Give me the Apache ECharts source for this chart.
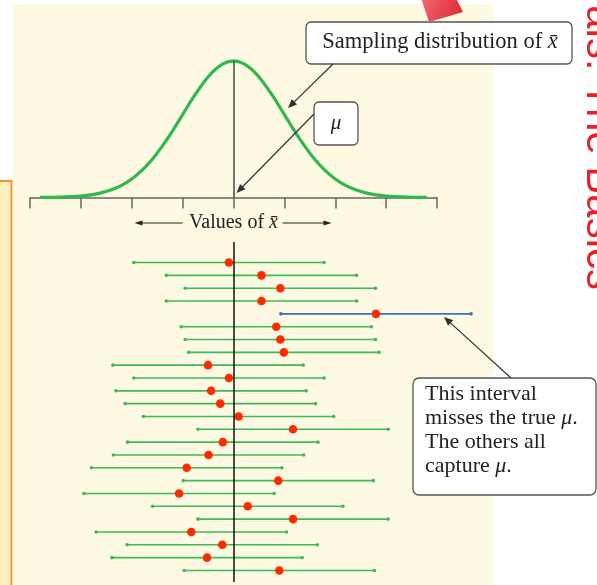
<!DOCTYPE html>
<html><head><meta charset="utf-8">
<script src="https://cdn.jsdelivr.net/npm/echarts@6/dist/echarts.min.js"></script>
<style>html,body{margin:0;padding:0;background:#fff}#c{width:597px;height:585px}</style>
</head><body><div id="c"></div>
<script>
// ---- data ----
const curveX = [-3.8,-3.6,-3.4,-3.2,-3.0,-2.8,-2.6,-2.4,-2.2,-2.0,-1.8,-1.6,-1.4,-1.2,-1.0,-0.8,-0.6,-0.4,-0.2,0,
                0.2,0.4,0.6,0.8,1.0,1.2,1.4,1.6,1.8,2.0,2.2,2.4,2.6,2.8,3.0,3.2,3.4,3.6,3.8];
const curveY = [0.0003,0.0006,0.0012,0.0024,0.0044,0.0079,0.0136,0.0224,0.0355,0.054,0.079,0.111,0.150,0.194,0.242,0.290,0.333,0.368,0.391,0.399,
                0.391,0.368,0.333,0.290,0.242,0.194,0.150,0.111,0.079,0.054,0.0355,0.0224,0.0136,0.0079,0.0044,0.0024,0.0012,0.0006,0.0003];
const tickValues = [-4,-3,-2,-1,0,1,2,3,4];
const sampleMeans = [-0.09,0.55,0.92,0.55,2.80,0.84,0.92,0.99,-0.50,-0.09,-0.44,-0.26,0.10,
                     1.17,-0.21,-0.49,-0.92,0.88,-1.07,0.28,1.17,-0.83,-0.22,-0.52,0.90];
const marginOfError = 1.87;
const mu = 0;
const axisLabelText = 'Values of {i|x̄}';
const samplingLabel = 'Sampling distribution of {i|x̄}';
const muLabel = 'μ';
const missLabel = 'This interval\nmisses the true {i|μ}.\nThe others all\ncapture {i|μ}.';
const titleText = 'Confidence Intervals: The Basics';

const GREEN = '#3dba55', BLUE = '#3b6fc6', RED = '#ff2a00', SERIF = '"Liberation Serif", "DejaVu Serif", serif';
const peak = Math.max(...curveY);

const chart = echarts.init(document.getElementById('c'), null, {renderer: 'canvas'});
chart.setOption({
  backgroundColor: '#ffffff',
  animation: false,
  grid: [
    {left: 30, right: 160, top: 60.5, bottom: 387.5},
    {left: 30, right: 160, top: 242, bottom: 3}
  ],
  xAxis: [
    {gridIndex: 0, type: 'value', min: tickValues[0], max: tickValues[tickValues.length - 1], interval: 1,
     axisLine: {show: true, onZero: false, lineStyle: {color: '#666', width: 1.5}},
     axisTick: {show: true, inside: false, length: 11, lineStyle: {color: '#666', width: 1.5}},
     axisLabel: {show: false}, splitLine: {show: false}},
    {gridIndex: 1, type: 'value', min: tickValues[0], max: tickValues[tickValues.length - 1], show: false}
  ],
  yAxis: [
    {gridIndex: 0, type: 'value', min: 0, max: 0.4, show: false},
    {gridIndex: 1, type: 'value', min: -1.6, max: sampleMeans.length - 1 + 0.9, inverse: true, show: false}
  ],
  series: [
    {type: 'line', xAxisIndex: 0, yAxisIndex: 0, data: curveX.map((x, i) => [x, curveY[i]]),
     smooth: 0.4, showSymbol: false, lineStyle: {color: '#2fb84e', width: 3.2}, z: 3,
     markLine: {silent: true, symbol: ['none', 'none'], label: {show: false},
       lineStyle: {color: '#444', width: 1.5, type: 'solid'},
       data: [[{coord: [mu, 0]}, {coord: [mu, peak]}]]}},
    {type: 'custom', xAxisIndex: 1, yAxisIndex: 1, data: sampleMeans.map((m, i) => [m, i]),
     renderItem(params, api) {
       const m = api.value(0), row = api.value(1);
       const lo = api.coord([m - marginOfError, row]);
       const hi = api.coord([m + marginOfError, row]);
       const c = api.coord([m, row]);
       const hit = (m - marginOfError <= mu) && (mu <= m + marginOfError);
       const col = hit ? GREEN : BLUE;
       return {type: 'group', children: [
         {type: 'line', shape: {x1: lo[0], y1: lo[1], x2: hi[0], y2: hi[1]}, style: {stroke: col, lineWidth: 1.6}},
         {type: 'circle', shape: {cx: lo[0], cy: lo[1], r: 1.8}, style: {fill: col}},
         {type: 'circle', shape: {cx: hi[0], cy: hi[1], r: 1.8}, style: {fill: col}},
         {type: 'circle', shape: {cx: c[0], cy: c[1], r: 4.3}, style: {fill: RED}, z2: 10}
       ]};
     },
     markLine: {silent: true, symbol: ['none', 'none'], label: {show: false},
       lineStyle: {color: '#111', width: 1.5, type: 'solid'}, data: [{xAxis: mu}]}}
  ]
});

function arrow(x1, y1, x2, y2, len, half, color, width) {
  const dx = x2 - x1, dy = y2 - y1, L = Math.hypot(dx, dy), ux = dx / L, uy = dy / L;
  const bx = x2 - ux * len, by = y2 - uy * len;
  return [
    {type: 'line', z: 100, shape: {x1, y1, x2: bx + ux, y2: by + uy}, style: {stroke: color, lineWidth: width}},
    {type: 'polygon', z: 100, shape: {points: [[x2, y2], [bx - uy * half, by + ux * half], [bx + uy * half, by - ux * half]]}, style: {fill: color}}
  ];
}

const muTop = chart.convertToPixel({xAxisIndex: 0, yAxisIndex: 0}, [mu, 0]);
const cx = muTop[0];
const labY = 223;
const richI = {i: {fontFamily: SERIF, fontStyle: 'italic', fontSize: 20, fill: '#222'}};

const els = [
  // slide backgrounds
  {type: 'rect', z: -100, shape: {x: 13, y: 4, width: 480, height: 581}, style: {fill: '#fef9e2'}},
  {type: 'rect', z: -90, shape: {x: -2, y: 181, width: 13.5, height: 410}, style: {fill: '#fcefc0', stroke: '#f7941d', lineWidth: 1.8}},
  {type: 'text', z: -80, x: 578, y: 290, rotation: -Math.PI / 2,
   style: {text: titleText, fontFamily: '"Liberation Sans", Arial, sans-serif', fontSize: 42, fill: '#e8202a', align: 'right', verticalAlign: 'bottom'}},
  {type: 'polygon', z: 120, shape: {points: [[421, -2], [429, 22], [463, 12], [456, -2]]},
   style: {fill: new echarts.graphic.LinearGradient(0, 0, 1, 1, [{offset: 0, color: '#f36a72'}, {offset: 1, color: '#dd2230'}])}},
  // axis caption
  {type: 'text', z: 100, x: cx, y: labY,
   style: {text: axisLabelText, fontFamily: SERIF, fontSize: 20, fill: '#222', align: 'center', verticalAlign: 'middle', rich: richI}},
  ...arrow(cx - 51, labY, cx - 99, labY, 8, 2.6, '#222', 1.2),
  ...arrow(cx + 49, labY, cx + 98, labY, 8, 2.6, '#222', 1.2),
  // sampling distribution callout
  {type: 'rect', z: 100, shape: {x: 306, y: 22, width: 266, height: 42, r: 5}, style: {fill: '#fff', stroke: '#555', lineWidth: 1.3}},
  {type: 'text', z: 101, x: 440, y: 42,
   style: {text: samplingLabel, fontFamily: SERIF, fontSize: 22.5, fill: '#222', align: 'center', verticalAlign: 'middle',
     rich: {i: {fontFamily: SERIF, fontStyle: 'italic', fontSize: 22.5, fill: '#222'}}}},
  ...arrow(333, 64, 288, 108, 9, 3.8, '#333', 1.2),
  // mu callout
  {type: 'rect', z: 100, shape: {x: 314, y: 102, width: 44, height: 43, r: 5}, style: {fill: '#fff', stroke: '#555', lineWidth: 1.3}},
  {type: 'text', z: 101, x: 336, y: 123,
   style: {text: muLabel, fontFamily: SERIF, fontStyle: 'italic', fontSize: 21, fill: '#222', align: 'center', verticalAlign: 'middle'}},
  ...arrow(314, 114, cx + 3, 193, 9, 3.8, '#333', 1.2),
  // missed interval callout
  {type: 'rect', z: 100, shape: {x: 413, y: 378, width: 183, height: 117, r: 6}, style: {fill: '#fff', stroke: '#555', lineWidth: 1.3}},
  {type: 'text', z: 101, x: 425, y: 382,
   style: {text: missLabel, fontFamily: SERIF, fontSize: 22, lineHeight: 24, fill: '#222', align: 'left', verticalAlign: 'top',
     rich: {i: {fontFamily: SERIF, fontStyle: 'italic', fontSize: 22, lineHeight: 24, fill: '#222'}}}},
  ...arrow(511, 378, 444, 317, 9, 3.8, '#333', 1.2)
];
chart.setOption({graphic: {elements: els}});
</script>
</body></html>
